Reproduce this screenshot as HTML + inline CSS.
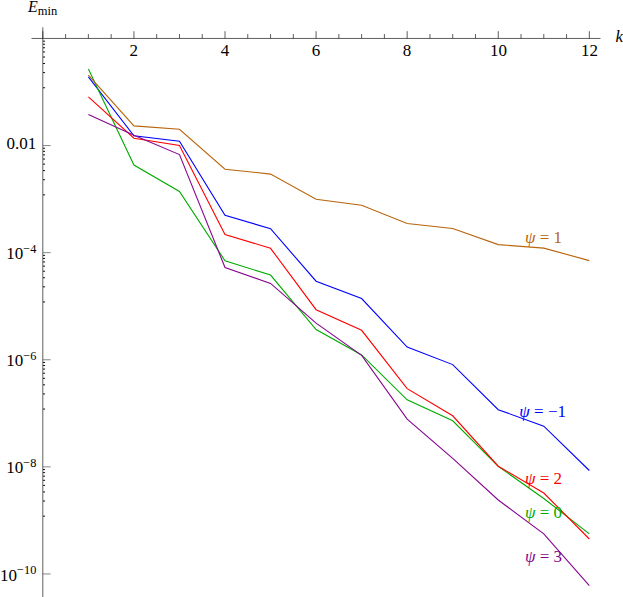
<!DOCTYPE html>
<html><head><meta charset="utf-8"><title>plot</title>
<style>
html,body{margin:0;padding:0;background:#fff;}
body{width:623px;height:597px;overflow:hidden;}
svg{display:block;}
</style></head><body>
<svg width="623" height="597" viewBox="0 0 623 597">
<rect width="623" height="597" fill="#fff"/>
<g stroke="#1a1a1a" stroke-width="0.7" fill="none">
<line x1="31.5" y1="38.45" x2="600.5" y2="38.45"/>
<line x1="42.80" y1="27.3" x2="42.80" y2="597"/>
<line x1="42.85" y1="38.5" x2="42.85" y2="31.2"/>
<line x1="65.62" y1="38.5" x2="65.62" y2="34.0"/>
<line x1="88.39" y1="38.5" x2="88.39" y2="34.0"/>
<line x1="111.16" y1="38.5" x2="111.16" y2="34.0"/>
<line x1="133.93" y1="38.5" x2="133.93" y2="31.2"/>
<line x1="156.70" y1="38.5" x2="156.70" y2="34.0"/>
<line x1="179.47" y1="38.5" x2="179.47" y2="34.0"/>
<line x1="202.24" y1="38.5" x2="202.24" y2="34.0"/>
<line x1="225.01" y1="38.5" x2="225.01" y2="31.2"/>
<line x1="247.78" y1="38.5" x2="247.78" y2="34.0"/>
<line x1="270.55" y1="38.5" x2="270.55" y2="34.0"/>
<line x1="293.32" y1="38.5" x2="293.32" y2="34.0"/>
<line x1="316.09" y1="38.5" x2="316.09" y2="31.2"/>
<line x1="338.86" y1="38.5" x2="338.86" y2="34.0"/>
<line x1="361.63" y1="38.5" x2="361.63" y2="34.0"/>
<line x1="384.40" y1="38.5" x2="384.40" y2="34.0"/>
<line x1="407.17" y1="38.5" x2="407.17" y2="31.2"/>
<line x1="429.94" y1="38.5" x2="429.94" y2="34.0"/>
<line x1="452.71" y1="38.5" x2="452.71" y2="34.0"/>
<line x1="475.48" y1="38.5" x2="475.48" y2="34.0"/>
<line x1="498.25" y1="38.5" x2="498.25" y2="31.2"/>
<line x1="521.02" y1="38.5" x2="521.02" y2="34.0"/>
<line x1="543.79" y1="38.5" x2="543.79" y2="34.0"/>
<line x1="566.56" y1="38.5" x2="566.56" y2="34.0"/>
<line x1="589.33" y1="38.5" x2="589.33" y2="31.2"/>
</g>
<g fill="none" stroke="#1a1a1a">
<line x1="43.05" y1="41.16" x2="45.05" y2="41.16" stroke-width="0.95" stroke="#000"/>
<line x1="43.05" y1="44.23" x2="45.05" y2="44.23" stroke-width="0.95" stroke="#000"/>
<line x1="43.05" y1="47.76" x2="45.05" y2="47.76" stroke-width="0.95" stroke="#000"/>
<line x1="43.05" y1="51.93" x2="45.05" y2="51.93" stroke-width="0.95" stroke="#000"/>
<line x1="43.05" y1="57.02" x2="45.05" y2="57.02" stroke-width="0.95" stroke="#000"/>
<line x1="43.05" y1="63.54" x2="45.05" y2="63.54" stroke-width="0.95" stroke="#000"/>
<line x1="43.05" y1="72.63" x2="45.05" y2="72.63" stroke-width="0.95" stroke="#000"/>
<line x1="43.05" y1="87.76" x2="45.05" y2="87.76" stroke-width="0.95" stroke="#000"/>
<line x1="42.85" y1="145.55" x2="50.65" y2="145.55" stroke-width="0.7" stroke="#555"/>
<line x1="43.05" y1="148.26" x2="45.05" y2="148.26" stroke-width="0.95" stroke="#000"/>
<line x1="43.05" y1="151.33" x2="45.05" y2="151.33" stroke-width="0.95" stroke="#000"/>
<line x1="43.05" y1="154.86" x2="45.05" y2="154.86" stroke-width="0.95" stroke="#000"/>
<line x1="43.05" y1="159.03" x2="45.05" y2="159.03" stroke-width="0.95" stroke="#000"/>
<line x1="43.05" y1="164.12" x2="45.05" y2="164.12" stroke-width="0.95" stroke="#000"/>
<line x1="43.05" y1="170.64" x2="45.05" y2="170.64" stroke-width="0.95" stroke="#000"/>
<line x1="43.05" y1="179.73" x2="45.05" y2="179.73" stroke-width="0.95" stroke="#000"/>
<line x1="43.05" y1="194.86" x2="45.05" y2="194.86" stroke-width="0.95" stroke="#000"/>
<line x1="42.85" y1="252.65" x2="50.65" y2="252.65" stroke-width="0.7" stroke="#555"/>
<line x1="43.05" y1="255.36" x2="45.05" y2="255.36" stroke-width="0.95" stroke="#000"/>
<line x1="43.05" y1="258.43" x2="45.05" y2="258.43" stroke-width="0.95" stroke="#000"/>
<line x1="43.05" y1="261.96" x2="45.05" y2="261.96" stroke-width="0.95" stroke="#000"/>
<line x1="43.05" y1="266.13" x2="45.05" y2="266.13" stroke-width="0.95" stroke="#000"/>
<line x1="43.05" y1="271.22" x2="45.05" y2="271.22" stroke-width="0.95" stroke="#000"/>
<line x1="43.05" y1="277.74" x2="45.05" y2="277.74" stroke-width="0.95" stroke="#000"/>
<line x1="43.05" y1="286.83" x2="45.05" y2="286.83" stroke-width="0.95" stroke="#000"/>
<line x1="43.05" y1="301.96" x2="45.05" y2="301.96" stroke-width="0.95" stroke="#000"/>
<line x1="42.85" y1="359.75" x2="50.65" y2="359.75" stroke-width="0.7" stroke="#555"/>
<line x1="43.05" y1="362.46" x2="45.05" y2="362.46" stroke-width="0.95" stroke="#000"/>
<line x1="43.05" y1="365.53" x2="45.05" y2="365.53" stroke-width="0.95" stroke="#000"/>
<line x1="43.05" y1="369.06" x2="45.05" y2="369.06" stroke-width="0.95" stroke="#000"/>
<line x1="43.05" y1="373.23" x2="45.05" y2="373.23" stroke-width="0.95" stroke="#000"/>
<line x1="43.05" y1="378.32" x2="45.05" y2="378.32" stroke-width="0.95" stroke="#000"/>
<line x1="43.05" y1="384.84" x2="45.05" y2="384.84" stroke-width="0.95" stroke="#000"/>
<line x1="43.05" y1="393.93" x2="45.05" y2="393.93" stroke-width="0.95" stroke="#000"/>
<line x1="43.05" y1="409.06" x2="45.05" y2="409.06" stroke-width="0.95" stroke="#000"/>
<line x1="42.85" y1="466.85" x2="50.65" y2="466.85" stroke-width="0.7" stroke="#555"/>
<line x1="43.05" y1="469.56" x2="45.05" y2="469.56" stroke-width="0.95" stroke="#000"/>
<line x1="43.05" y1="472.63" x2="45.05" y2="472.63" stroke-width="0.95" stroke="#000"/>
<line x1="43.05" y1="476.16" x2="45.05" y2="476.16" stroke-width="0.95" stroke="#000"/>
<line x1="43.05" y1="480.33" x2="45.05" y2="480.33" stroke-width="0.95" stroke="#000"/>
<line x1="43.05" y1="485.42" x2="45.05" y2="485.42" stroke-width="0.95" stroke="#000"/>
<line x1="43.05" y1="491.94" x2="45.05" y2="491.94" stroke-width="0.95" stroke="#000"/>
<line x1="43.05" y1="501.03" x2="45.05" y2="501.03" stroke-width="0.95" stroke="#000"/>
<line x1="43.05" y1="516.16" x2="45.05" y2="516.16" stroke-width="0.95" stroke="#000"/>
<line x1="42.85" y1="573.95" x2="50.65" y2="573.95" stroke-width="0.7" stroke="#555"/>
</g>
<polyline points="88.39,76.80 133.93,135.80 179.47,141.20 225.01,215.30 270.55,228.70 316.09,281.20 361.63,298.50 407.17,347.05 452.71,364.60 498.25,409.70 543.79,426.20 589.33,470.50" fill="none" stroke="#0000ff" stroke-width="1.1" stroke-linejoin="miter"/>
<polyline points="88.39,69.10 133.93,165.00 179.47,191.50 225.01,260.80 270.55,275.10 316.09,329.50 361.63,354.90 407.17,399.80 452.71,420.80 498.25,466.40 543.79,498.50 589.33,533.90" fill="none" stroke="#00aa00" stroke-width="1.1" stroke-linejoin="miter"/>
<polyline points="88.39,75.10 133.93,125.90 179.47,129.30 225.01,169.20 270.55,174.10 316.09,199.20 361.63,205.20 407.17,223.50 452.71,228.50 498.25,244.60 543.79,248.10 589.33,260.60" fill="none" stroke="#b8650d" stroke-width="1.1" stroke-linejoin="miter"/>
<polyline points="88.39,96.90 133.93,138.20 179.47,145.50 225.01,234.50 270.55,248.30 316.09,309.70 361.63,330.30 407.17,388.60 452.71,415.80 498.25,466.20 543.79,493.00 589.33,539.00" fill="none" stroke="#ff0000" stroke-width="1.1" stroke-linejoin="miter"/>
<polyline points="88.39,114.50 133.93,135.20 179.47,154.60 225.01,267.50 270.55,283.40 316.09,323.10 361.63,355.40 407.17,419.10 452.71,458.30 498.25,500.00 543.79,533.90 589.33,585.70" fill="none" stroke="#86068e" stroke-width="1.1" stroke-linejoin="miter"/>
<g font-family="'Liberation Serif', serif" font-size="17" fill="#000">
<text x="133.7" y="56.3" text-anchor="middle">2</text>
<text x="224.9" y="56.3" text-anchor="middle">4</text>
<text x="316.05" y="56.3" text-anchor="middle">6</text>
<text x="407" y="56.3" text-anchor="middle">8</text>
<text x="498.5" y="56.3" text-anchor="middle">10</text>
<text x="589.5" y="56.3" text-anchor="middle">12</text>
<text x="615.5" y="41.6" font-style="italic">k</text>
<text x="28" y="11.7" font-size="16"><tspan font-style="italic">E</tspan><tspan dy="3.2" font-size="12.5">min</tspan></text>
<text x="36.2" y="149" text-anchor="end">0.01</text>
<text x="36.3" y="259.25" text-anchor="end">10<tspan dy="-6.1" font-size="12.3">−4</tspan></text>
<text x="36.3" y="366.35" text-anchor="end">10<tspan dy="-6.1" font-size="12.3">−6</tspan></text>
<text x="36.3" y="473.45" text-anchor="end">10<tspan dy="-6.1" font-size="12.3">−8</tspan></text>
<text x="36.3" y="580.55" text-anchor="end">10<tspan dy="-6.1" font-size="12.3">−10</tspan></text>
<text x="524.9" y="242.7" fill="#b8650d"><tspan font-style="italic">ψ</tspan> = 1</text>
<text x="519.3" y="416.7" fill="#0000ff"><tspan font-style="italic">ψ</tspan> = −1</text>
<text x="524.9" y="483.8" fill="#ff0000"><tspan font-style="italic">ψ</tspan> = 2</text>
<text x="524.9" y="518.4" fill="#00aa00"><tspan font-style="italic">ψ</tspan> = 0</text>
<text x="524.9" y="561.7" fill="#86068e"><tspan font-style="italic">ψ</tspan> = 3</text>
</g>
</svg></body></html>
